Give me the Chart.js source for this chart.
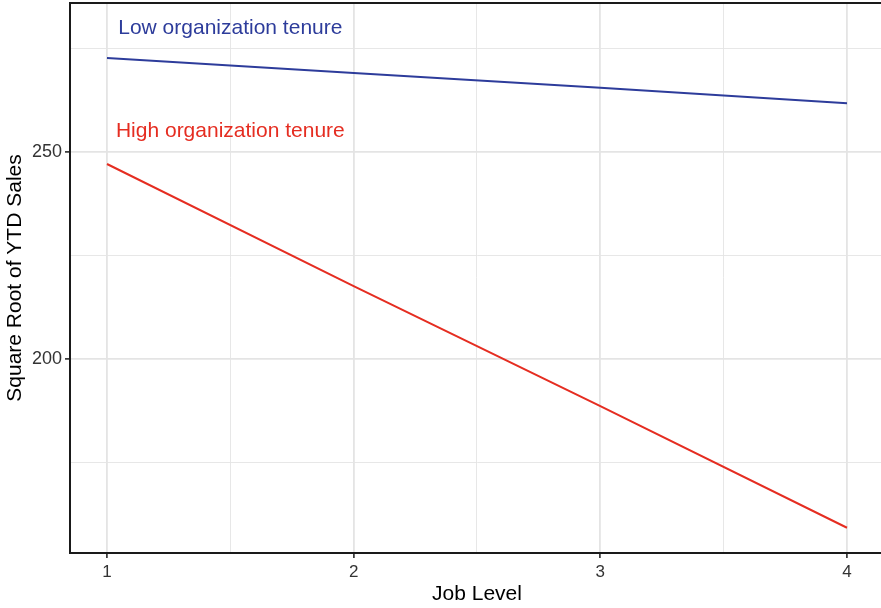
<!DOCTYPE html>
<html>
<head>
<meta charset="utf-8">
<script src="https://cdn.jsdelivr.net/npm/chart.js@4/dist/chart.umd.min.js"></script>
<style>
html,body{margin:0;padding:0;background:#fff;overflow:hidden;width:881px;height:608px;}
#wrap{width:890px;height:608px;}
</style>
</head>
<body>
<div id="wrap"><canvas id="c" width="890" height="608"></canvas></div>
<script>
const jobLevels = [1, 2, 3, 4];
const lowTenure = [272.7, 269.1, 265.5, 261.8];
const highTenure = [247.1, 217.6, 188.6, 159.2];
const xTickValues = [1, 1.5, 2, 2.5, 3, 3.5, 4];
const yTickValues = [175, 200, 225, 250, 275];
const annotationLabels = ["Low organization tenure", "High organization tenure"];
const annotationX = [1.5, 1.5];
const annotationY = [280, 255];
const seriesColors = ['#2D3C9B', '#E52D21'];

const toPts = (ys) => jobLevels.map((x, i) => ({x: x, y: ys[i]}));
const FONT = '"Liberation Sans", Arial, sans-serif';

const annotate = {
  id: 'annotate',
  afterDatasetsDraw(chart) {
    const ctx = chart.ctx, xs = chart.scales.x, ys = chart.scales.y;
    ctx.save();
    ctx.font = '21px ' + FONT;
    ctx.textAlign = 'center';
    ctx.textBaseline = 'middle';
    annotationLabels.forEach((t, i) => {
      ctx.fillStyle = seriesColors[i];
      ctx.fillText(t, xs.getPixelForValue(annotationX[i]), ys.getPixelForValue(annotationY[i]));
    });
    ctx.restore();
  },
  afterDraw(chart) {
    const a = chart.chartArea, ctx = chart.ctx;
    ctx.save();
    ctx.strokeStyle = '#1a1a1a';
    ctx.lineWidth = 2;
    ctx.strokeRect(a.left, a.top, a.right - a.left, a.bottom - a.top);
    ctx.restore();
  }
};

const isMajor = (v) => Math.abs(v - Math.round(v)) < 1e-9;
const noPad = (s) => { s.paddingTop = 0; s.paddingBottom = 0; s.paddingLeft = 0; s.paddingRight = 0; };

new Chart(document.getElementById('c'), {
  type: 'line',
  data: {
    datasets: [
      {data: toPts(lowTenure), borderColor: seriesColors[0], borderWidth: 2, pointRadius: 0, fill: false, tension: 0},
      {data: toPts(highTenure), borderColor: seriesColors[1], borderWidth: 2, pointRadius: 0, fill: false, tension: 0}
    ]
  },
  options: {
    responsive: false,
    animation: false,
    layout: {padding: {top: 3, right: 6, bottom: 0, left: 0}},
    plugins: {legend: {display: false}, tooltip: {enabled: false}},
    scales: {
      x: {
        type: 'linear',
        min: 0.85, max: 4.15,
        afterBuildTicks: (s) => { s.ticks = xTickValues.map(v => ({value: v})); },
        afterFit: (s) => { s.height = 55; noPad(s); },
        ticks: {
          autoSkip: false, maxRotation: 0, padding: 4,
          color: '#333',
          font: {family: FONT, size: 17},
          callback: (v) => isMajor(v) ? String(v) : ''
        },
        grid: {
          color: '#E4E4E4',
          lineWidth: (c) => isMajor(c.tick.value) ? 1.8 : 0.9,
          tickColor: (c) => isMajor(c.tick.value) ? '#1a1a1a' : 'rgba(0,0,0,0)',
          tickLength: 5,
          tickWidth: 1.5
        },
        border: {display: true, color: '#1a1a1a', width: 2},
        title: {
          display: true, text: 'Job Level', color: '#000',
          font: {family: FONT, size: 21},
          padding: {top: 0, bottom: 1}
        }
      },
      y: {
        type: 'linear',
        min: 153.1, max: 286,
        afterBuildTicks: (s) => { s.ticks = yTickValues.map(v => ({value: v})); },
        afterFit: (s) => { s.width = 70; noPad(s); },
        ticks: {
          autoSkip: false, padding: 3,
          color: '#333',
          font: {family: FONT, size: 18},
          callback: (v) => (v % 50 === 0) ? String(v) : ''
        },
        grid: {
          color: '#E4E4E4',
          lineWidth: (c) => (c.tick.value % 50 === 0) ? 1.8 : 0.9,
          tickColor: (c) => (c.tick.value % 50 === 0) ? '#1a1a1a' : 'rgba(0,0,0,0)',
          tickLength: 5,
          tickWidth: 1.5
        },
        border: {display: true, color: '#1a1a1a', width: 2},
        title: {
          display: true, text: 'Square Root of YTD Sales', color: '#000',
          font: {family: FONT, size: 21},
          padding: {top: 3, bottom: 0}
        }
      }
    }
  },
  plugins: [annotate]
});
</script>
</body>
</html>
